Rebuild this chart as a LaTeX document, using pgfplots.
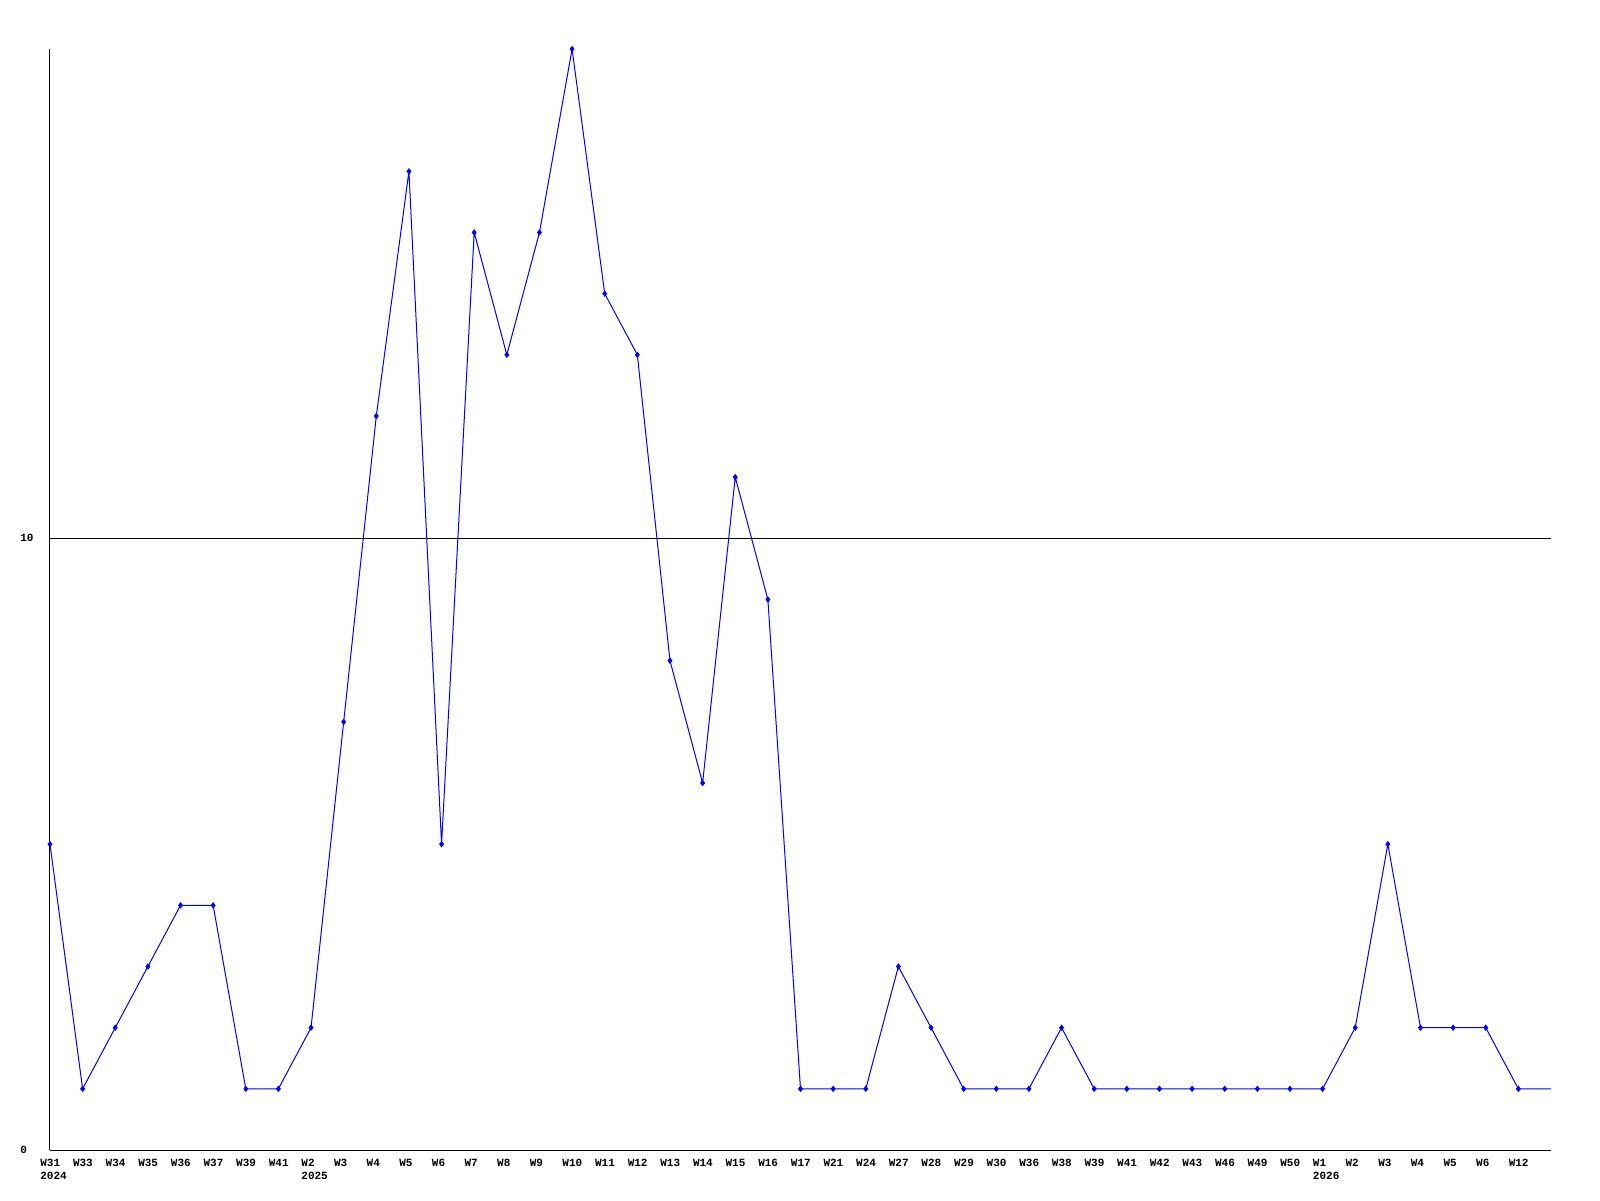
\documentclass[border=0pt]{standalone}
\usepackage{pgfplots}
\usepackage{pgfplotstable}
\usepackage{fontspec}
\setmainfont{Liberation Mono}
\pgfplotsset{compat=1.18}

% x = week index, y = count
\pgfplotstableread{
x y
0 5
1 1
2 2
3 3
4 4
5 4
6 1
7 1
8 2
9 7
10 12
11 16
12 5
13 15
14 13
15 15
16 18
17 14
18 13
19 8
20 6
21 11
22 9
23 1
24 1
25 1
26 3
27 2
28 1
29 1
30 1
31 2
32 1
33 1
34 1
35 1
36 1
37 1
38 1
39 1
40 2
41 5
42 2
43 2
44 2
45 1
46 1
}\weekly

\begin{document}
\begin{tikzpicture}
\path[use as bounding box] (-25pt,-25pt) rectangle (775pt,575pt);
\begin{axis}[
    scale only axis,
    width=750.5pt, height=550.5pt,
    xmin=0, xmax=46, ymin=0, ymax=18,
    axis x line*=bottom, axis y line*=left,
    axis line style={-, black, line width=0.5pt},
    major tick length=0pt,
    xtick={0,...,45},
    xticklabels={W31\\2024,W33,W34,W35,W36,W37,W39,W41,W2\\2025,W3,W4,W5,W6,W7,W8,W9,W10,W11,W12,W13,W14,W15,W16,W17,W21,W24,W27,W28,W29,W30,W36,W38,W39,W41,W42,W43,W46,W49,W50,W1\\2026,W2,W3,W4,W5,W6,W12},
    ytick={0,10},
    ymajorgrids,
    grid style={black, line width=0.5pt},
    tick label style={font=\fontsize{5.5}{6.6}\selectfont\bfseries, inner sep=0pt},
    xticklabel style={anchor=north west, align=left, xshift=-5pt, yshift=-4.5pt},
    yticklabel style={anchor=west, xshift=-15pt},
    /pgf/number format/assume math mode=true,
    clip=true,
]
\addplot[blue, line width=0.5pt, no marks] table[x=x, y=y] {\weekly};
\addplot[blue, only marks, mark=diamond*, mark size=1.3pt,
    restrict x to domain=0:45] table[x=x, y=y] {\weekly};
\end{axis}
\end{tikzpicture}
\end{document}
